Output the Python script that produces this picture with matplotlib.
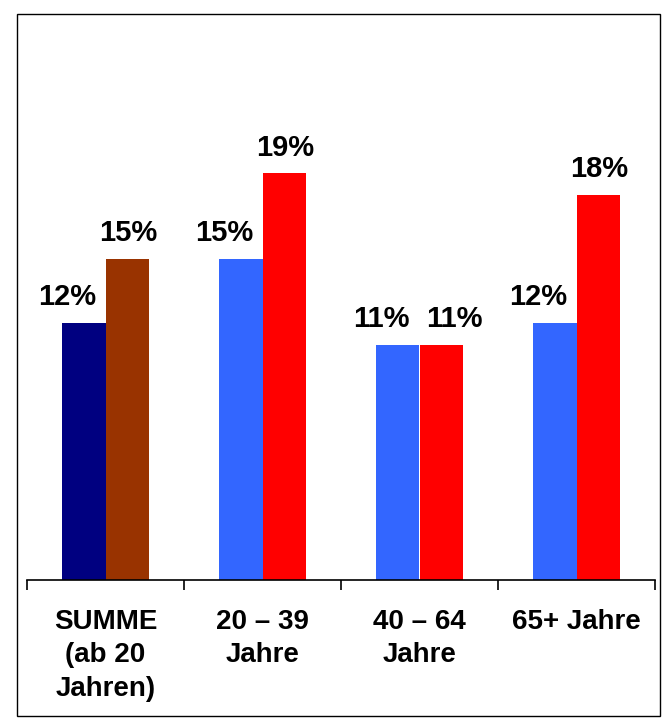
import matplotlib.pyplot as plt
import numpy as np
from matplotlib.patches import Rectangle
from matplotlib.transforms import offset_copy

categories = ['SUMME\n(ab 20\nJahren)', '20 – 39\nJahre', '40 – 64\nJahre', '65+ Jahre']
series_a = [12, 15, 11, 12]
series_b = [15, 19, 11, 18]
colors_a = ['#000080', '#3366FF', '#3366FF', '#3366FF']
colors_b = ['#993300', '#FF0000', '#FF0000', '#FF0000']

plt.rcParams['font.family'] = ['Liberation Sans', 'DejaVu Sans']

fig = plt.figure(figsize=(6.68, 7.2), dpi=100)
W, H = 668, 720
ax = fig.add_axes([27 / W, 140 / H, 628 / W, 560 / H])

x = np.arange(len(categories))
w = 0.28
bars_a = ax.bar(x - w / 2, series_a, w, color=colors_a)
bars_b = ax.bar(x + w / 2, series_b, w, color=colors_b)

# labels of the left bars sit a bit to the left, right ones move aside when equal
for b, v in zip(bars_a, series_a):
    tr = offset_copy(ax.transData, fig=fig, x=-16, y=0, units='dots')
    ax.text(b.get_x() + b.get_width() / 2, v + 0.55, f'{v}%', transform=tr,
            ha='center', va='bottom', fontsize=21, fontweight='bold')
for b, v, va in zip(bars_b, series_b, series_a):
    dx = 13 if v == va else 1
    tr = offset_copy(ax.transData, fig=fig, x=dx, y=0, units='dots')
    ax.text(b.get_x() + b.get_width() / 2, v + 0.55, f'{v}%', transform=tr,
            ha='center', va='bottom', fontsize=21, fontweight='bold')

ax.set_xlim(-0.5, len(categories) - 0.5)
ax.set_ylim(0, 560 / 21.4)
for s in ('top', 'right', 'left'):
    ax.spines[s].set_visible(False)
ax.spines['bottom'].set_linewidth(1.2)
ax.set_yticks([])

ax.set_xticks(np.arange(len(categories) + 1) - 0.5)
ax.set_xticklabels([])
ax.tick_params(axis='x', length=7, width=1.2, direction='out')
ax.set_xticks(x, minor=True)
ax.set_xticklabels(categories, minor=True, fontsize=20, fontweight='bold',
                   linespacing=1.36)
ax.tick_params(axis='x', which='minor', length=0, pad=21)

fig.patches.append(Rectangle((17 / W, 4 / H), 643 / W, 702 / H,
                             transform=fig.transFigure, fill=False,
                             edgecolor='black', linewidth=1))

fig.savefig('out.png', dpi=100)
